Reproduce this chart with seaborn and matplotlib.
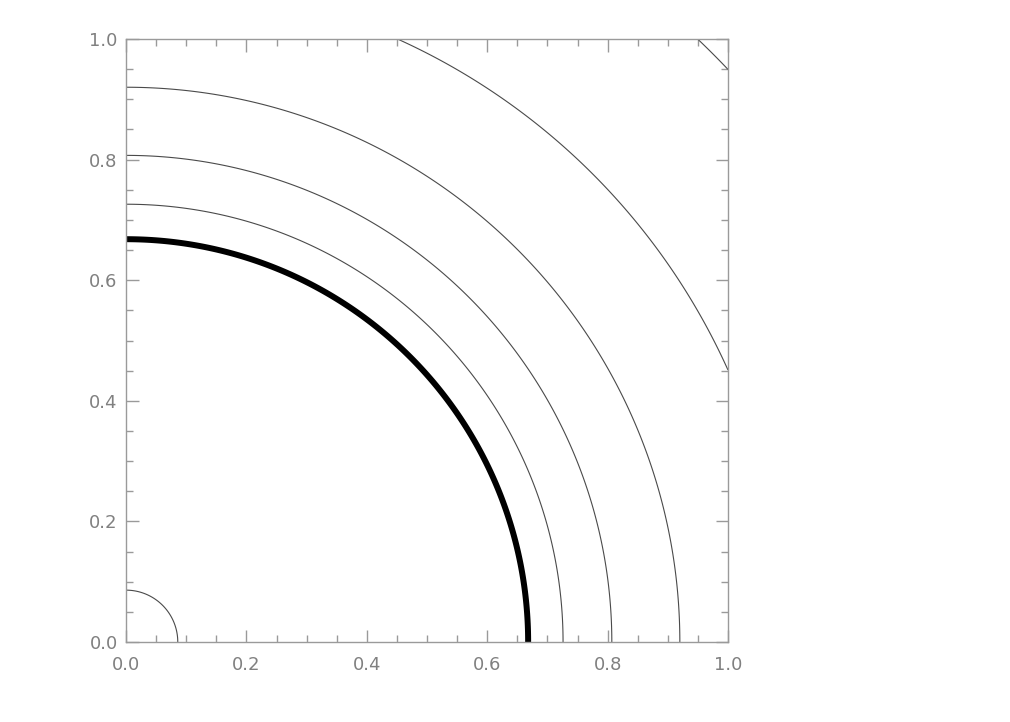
import numpy as np
import matplotlib
matplotlib.use("Agg")
import matplotlib.pyplot as plt
import seaborn as sns
from matplotlib.ticker import MultipleLocator

# contour levels (radius of each arc)
niveles_finos = [0.086, 0.726, 0.807, 0.920, 1.097, 1.379]
nivel_grueso = [0.668]
ticks = [0.0, 0.2, 0.4, 0.6, 0.8, 1.0]
etiquetas = ["0.0", "0.2", "0.4", "0.6", "0.8", "1.0"]

sns.set_style("white")
plt.rcParams['font.family'] = ['DejaVu Sans']

# campo radial sobre la malla
x = np.linspace(0, 1, 401)
y = np.linspace(0, 1, 401)
X, Y = np.meshgrid(x, y)
R = np.sqrt(X**2 + Y**2)

fig = plt.figure(figsize=(10.1, 7.22), dpi=100)
ax = fig.add_axes([126/1010, 80/722, 602/1010, 603/722])

ax.contour(X, Y, R, levels=niveles_finos, colors='#4a4a4a', linewidths=0.8)
ax.contour(X, Y, R, levels=nivel_grueso, colors='black', linewidths=4.3)

ax.set_xlim(0, 1)
ax.set_ylim(0, 1)
ax.set_xticks(ticks)
ax.set_yticks(ticks)
ax.set_xticklabels(etiquetas)
ax.set_yticklabels(etiquetas)
ax.xaxis.set_minor_locator(MultipleLocator(0.05))
ax.yaxis.set_minor_locator(MultipleLocator(0.05))

gris = '#9a9a9a'
ax.tick_params(which='both', direction='in', top=True, right=True,
               bottom=True, left=True,
               color=gris, labelcolor='#808080', width=1)
ax.tick_params(which='major', length=9, labelsize=13)
ax.tick_params(which='minor', length=5)
ax.tick_params(axis='x', which='major', pad=10)
ax.tick_params(axis='y', which='major', pad=6)
for s in ax.spines.values():
    s.set_color(gris)
    s.set_linewidth(1)

fig.savefig("out.png", dpi=100, facecolor='white')
